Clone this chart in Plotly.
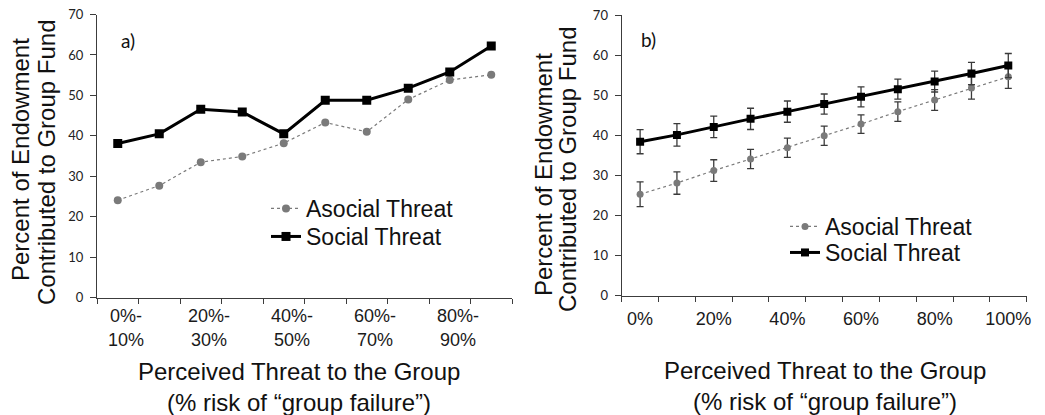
import plotly.graph_objects as go

# ---------------- data ----------------
# panel a) : 10 threat bins
cats_a = ["0%-10%", "10%-20%", "20%-30%", "30%-40%", "40%-50%",
          "50%-60%", "60%-70%", "70%-80%", "80%-90%", "90%-100%"]
asocial_a = [24.1, 27.7, 33.5, 34.9, 38.2, 43.3, 41.0, 49.0, 53.8, 55.1]
social_a = [38.1, 40.5, 46.6, 45.9, 40.5, 48.8, 48.8, 51.8, 55.8, 62.2]
ticklabels_a = ["0%-<br>10%", "20%-<br>30%", "40%-<br>50%", "60%-<br>70%", "80%-<br>90%"]

# panel b) : 11 threat levels, model estimates with error bars
levels_b = ["0%", "10%", "20%", "30%", "40%", "50%", "60%", "70%", "80%", "90%", "100%"]
asocial_b = [25.3, 28.1, 31.2, 34.1, 36.9, 39.9, 42.8, 45.9, 48.8, 51.8, 54.6]
asocial_b_err = [3.1, 2.8, 2.7, 2.4, 2.4, 2.4, 2.3, 2.45, 2.6, 2.8, 2.9]
social_b = [38.4, 40.1, 42.1, 44.1, 45.9, 47.8, 49.6, 51.5, 53.4, 55.4, 57.4]
social_b_err = [3.0, 2.8, 2.7, 2.65, 2.65, 2.5, 2.5, 2.5, 2.6, 2.8, 3.0]
ticklabels_b = ["0%", "20%", "40%", "60%", "80%", "100%"]

series_names = ["Asocial Threat", "Social Threat"]
ytitle_lines = ["Percent of Endowment", "Contributed to Group Fund"]
xtitle_lines = ["Perceived Threat to the Group", "(% risk of \u201cgroup failure\u201d)"]
panel_labels = ["a)", "b)"]

# ---------------- layout constants ----------------
W, H = 1045, 415
ARIAL = "Liberation Sans, Arial, sans-serif"
CALIBRI = "Lato, Carlito, Calibri, sans-serif"
AXIS_COLOR = "#3c3c3c"
GRAY = "#7a7a7a"

def px_x(p):
    return p / W

def px_y(p):
    return 1 - p / H

xa = [i + 0.5 for i in range(len(cats_a))]
xb = [i + 0.5 for i in range(len(levels_b))]

fig = go.Figure()

# panel a
fig.add_trace(go.Scatter(
    x=xa, y=asocial_a, name=series_names[0], mode="lines+markers",
    line=dict(color=GRAY, width=1.2, dash="dot"),
    marker=dict(symbol="circle", size=8, color=GRAY),
    xaxis="x", yaxis="y", legend="legend"))
fig.add_trace(go.Scatter(
    x=xa, y=social_a, name=series_names[1], mode="lines+markers",
    line=dict(color="black", width=3),
    marker=dict(symbol="square", size=9, color="black"),
    xaxis="x", yaxis="y", legend="legend2"))

# panel b
fig.add_trace(go.Scatter(
    x=xb, y=asocial_b, name=series_names[0], mode="lines+markers",
    line=dict(color=GRAY, width=1.2, dash="dot"),
    marker=dict(symbol="circle", size=7, color=GRAY),
    error_y=dict(type="data", array=asocial_b_err, visible=True,
                 color="#3a3a3a", thickness=1.3, width=3.5),
    xaxis="x2", yaxis="y2", legend="legend3"))
fig.add_trace(go.Scatter(
    x=xb, y=social_b, name=series_names[1], mode="lines+markers",
    line=dict(color="black", width=3),
    marker=dict(symbol="square", size=8, color="black"),
    error_y=dict(type="data", array=social_b_err, visible=True,
                 color="#3a3a3a", thickness=1.3, width=3.5),
    xaxis="x2", yaxis="y2", legend="legend4"))

yaxis_common = dict(
    range=[0, 70], dtick=10, showgrid=False, zeroline=False, automargin=False,
    showline=True, linecolor=AXIS_COLOR, linewidth=1.3,
    ticks="outside", ticklen=6, tickwidth=1.3, tickcolor=AXIS_COLOR,
    tickfont=dict(family=CALIBRI, size=13, color="#222222"),
    ticklabelstandoff=4,
)
xaxis_common = dict(
    showgrid=False, zeroline=False, showline=True, linecolor=AXIS_COLOR,
    linewidth=1.3, ticks="", automargin=False,
    tickfont=dict(family=ARIAL, size=18, color="#1a1a1a"),
    tickmode="array",
)

def legend_at(left_px, top_px):
    return dict(x=px_x(left_px), y=px_y(top_px), xanchor="left", yanchor="top",
                font=dict(family=ARIAL, size=23, color="#111111"),
                bgcolor="rgba(0,0,0,0)", itemwidth=30, tracegroupgap=0)

fig.update_layout(
    template="none",
    width=W, height=H, margin=dict(l=0, r=0, t=0, b=0, autoexpand=False),
    paper_bgcolor="white", plot_bgcolor="white",
    xaxis=dict(domain=[px_x(97), px_x(512)], range=[0, len(cats_a)],
               tickvals=[xa[i] + 0.2 for i in range(0, len(cats_a), 2)],
               ticktext=ticklabels_a, ticklabelstandoff=2,
               minor=dict(tickmode="array", tickvals=list(range(len(cats_a) + 1)),
                          ticks="outside", ticklen=5, tickwidth=1.3, tickcolor=AXIS_COLOR),
               anchor="y", **xaxis_common),
    yaxis=dict(domain=[px_y(297.7), px_y(14.5)], anchor="x", **yaxis_common),
    xaxis2=dict(domain=[px_x(621.7), px_x(1026.7)], range=[0, len(levels_b)],
                tickvals=[xb[i] for i in range(0, len(levels_b), 2)],
                ticktext=ticklabels_b, ticklabelstandoff=7,
                minor=dict(tickmode="array", tickvals=list(range(len(levels_b) + 1)),
                           ticks="outside", ticklen=5, tickwidth=1.3, tickcolor=AXIS_COLOR),
                anchor="y2", **xaxis_common),
    yaxis2=dict(domain=[px_y(295.7), px_y(15)], anchor="x2", **yaxis_common),
    legend=legend_at(266, 187),
    legend2=legend_at(266, 215),
    legend3=legend_at(785, 205),
    legend4=legend_at(785, 231),
    showlegend=True,
)

annotations = []
# panel labels
for lab, (cx, cy) in zip(panel_labels, [(128, 41), (648, 40)]):
    annotations.append(dict(text=lab, x=px_x(cx), y=px_y(cy), xref="paper", yref="paper",
                            xanchor="center", yanchor="middle", showarrow=False,
                            font=dict(family=CALIBRI, size=19, color="#111111")))
# y titles (two lines each)
for (c1, c2, cy1, cy2) in [(20, 46, 160, 162), (543, 567, 175, 169)]:
    for line, cx, cy in zip(ytitle_lines, [c1, c2], [cy1, cy2]):
        annotations.append(dict(text=line, x=px_x(cx), y=px_y(cy), xref="paper", yref="paper",
                                xanchor="center", yanchor="middle", textangle=-90,
                                showarrow=False,
                                font=dict(family=ARIAL, size=24, color="#111111")))
# x titles (two lines each)
for (cx, cy1, cy2) in [(299, 371, 402), (825, 370, 401)]:
    for line, cy in zip(xtitle_lines, [cy1, cy2]):
        annotations.append(dict(text=line, x=px_x(cx), y=px_y(cy), xref="paper", yref="paper",
                                xanchor="center", yanchor="middle", showarrow=False,
                                font=dict(family=ARIAL, size=24, color="#111111")))
fig.update_layout(annotations=annotations)

fig.write_html("out.html", config={"displayModeBar": False},
               post_script="document.body.style.margin='0';document.body.style.overflow='hidden';")
